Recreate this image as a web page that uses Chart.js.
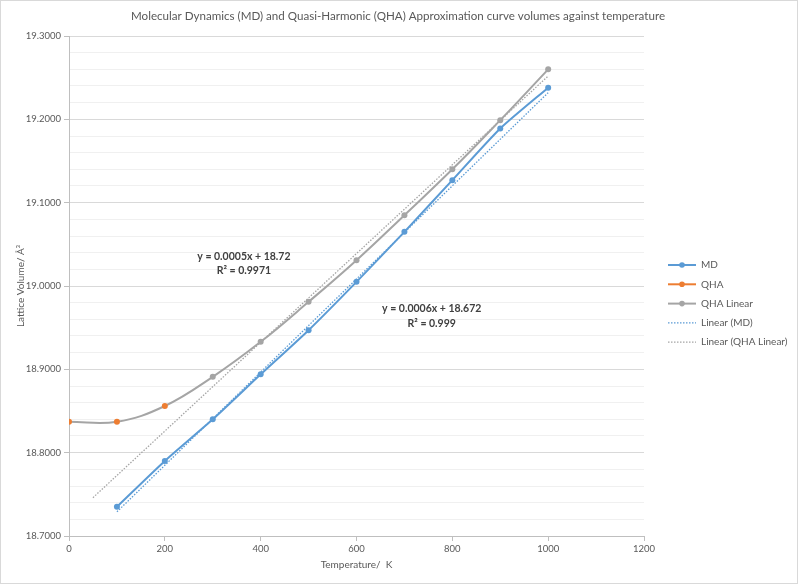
<!DOCTYPE html>
<html>
<head>
<meta charset="utf-8">
<script src="https://cdn.jsdelivr.net/npm/chart.js@4.4.1/dist/chart.umd.min.js"></script>
<style>
html,body{margin:0;padding:0;background:#fff;}
#wrap{width:800px;height:586px;position:relative;}
</style>
</head>
<body>
<div id="wrap"><canvas id="c" width="800" height="586"></canvas></div>
<script>
// ---- data ----
const titleText = 'Molecular Dynamics (MD) and Quasi-Harmonic (QHA) Approximation curve volumes against temperature';
const xTitle = 'Temperature/  K';
const yTitle = 'Lattice Volume/ Å³';
const seriesNames = ['MD', 'QHA', 'QHA Linear', 'Linear (MD)', 'Linear (QHA Linear)'];

const mdTemps = [100, 200, 300, 400, 500, 600, 700, 800, 900, 1000];
const mdVol = [18.735, 18.790, 18.840, 18.894, 18.947, 19.005, 19.065, 19.127, 19.189, 19.238];

const qhaTemps = [0, 100, 200];
const qhaVol = [18.837, 18.837, 18.856];

const qhaLinTemps = [0, 100, 200, 300, 400, 500, 600, 700, 800, 900, 1000];
const qhaLinVol = [18.837, 18.837, 18.856, 18.891, 18.933, 18.981, 19.031, 19.085, 19.140, 19.199, 19.260];

const trendMdTemps = [100, 1000];
const trendMdVol = [18.729, 19.232];
const trendQhaTemps = [50, 1000];
const trendQhaVol = [18.746, 19.252];

const eqMd = ['y = 0.0006x + 18.672', 'R² = 0.999'];
const eqQha = ['y = 0.0005x + 18.72', 'R² = 0.9971'];

const xMin = 0, xMax = 1200, xStep = 200;
const yMin = 18.7, yMax = 19.3, yMajor = 0.1, yMinor = 0.02;

// ---- styles ----
const C_MD = '#5b9bd5', C_QHA = '#ed7d31', C_QL = '#a5a5a5';
const FONT = 'Lato, "Open Sans", sans-serif';
const TXT = '#595959';

const pts = (xs, ys) => xs.map((x, i) => ({x: x, y: ys[i]}));
const isMajor = v => Math.abs(v / yMajor - Math.round(v / yMajor)) < 1e-6;

const legendItems = [
  {name: seriesNames[0], color: C_MD, dot: true, dash: false},
  {name: seriesNames[1], color: C_QHA, dot: true, dash: false},
  {name: seriesNames[2], color: C_QL, dot: true, dash: false},
  {name: seriesNames[3], color: C_MD, dot: false, dash: true},
  {name: seriesNames[4], color: C_QL, dot: false, dash: true}
];

const decor = {
  id: 'decor',
  afterDraw(chart) {
    const ctx = chart.ctx;
    const xs = chart.scales.x, ys = chart.scales.y, ca = chart.chartArea;
    ctx.save();
    // border
    ctx.strokeStyle = '#d9d9d9'; ctx.lineWidth = 1;
    ctx.strokeRect(0.5, 0.5, 797, 583);
    // title
    ctx.fillStyle = TXT; ctx.textAlign = 'center'; ctx.textBaseline = 'middle';
    ctx.font = '11.6px ' + FONT;
    ctx.fillText(titleText, 398, 16);
    // axis titles
    ctx.font = '10px ' + FONT;
    ctx.fillText(xTitle, (ca.left + ca.right) / 2, 565);
    ctx.save();
    ctx.translate(21, (ca.top + ca.bottom) / 2);
    ctx.rotate(-Math.PI / 2);
    ctx.fillText(yTitle, 0, 0);
    ctx.restore();
    // equations
    ctx.fillStyle = '#404040';
    ctx.font = 'bold 10.5px ' + FONT;
    ctx.fillText(eqQha[0], xs.getPixelForValue(365), ys.getPixelForValue(19.035));
    ctx.fillText(eqQha[1], xs.getPixelForValue(365), ys.getPixelForValue(19.019));
    ctx.fillText(eqMd[0], xs.getPixelForValue(757), ys.getPixelForValue(18.9725));
    ctx.fillText(eqMd[1], xs.getPixelForValue(757), ys.getPixelForValue(18.9545));
    // legend
    ctx.textAlign = 'left';
    ctx.font = '10px ' + FONT;
    legendItems.forEach((it, i) => {
      const y = 265 + i * 19.3;
      ctx.strokeStyle = it.color;
      if (it.dash) { ctx.setLineDash([1.5, 1.5]); ctx.lineWidth = 1.2; }
      else { ctx.setLineDash([]); ctx.lineWidth = 2; }
      ctx.beginPath(); ctx.moveTo(668, y); ctx.lineTo(696, y); ctx.stroke();
      ctx.setLineDash([]);
      if (it.dot) {
        ctx.fillStyle = it.color;
        ctx.beginPath(); ctx.arc(682, y, 2.8, 0, Math.PI * 2); ctx.fill();
      }
      ctx.fillStyle = TXT;
      ctx.fillText(it.name, 701, y);
    });
    ctx.restore();
  }
};

new Chart(document.getElementById('c'), {
  type: 'line',
  data: {
    datasets: [
      {label: seriesNames[0], data: pts(mdTemps, mdVol), borderColor: C_MD, backgroundColor: C_MD,
       borderWidth: 2, pointRadius: 3, pointBorderWidth: 0, tension: 0.2},
      {label: seriesNames[1], data: pts(qhaTemps, qhaVol), borderColor: C_QHA, backgroundColor: C_QHA,
       showLine: false, pointRadius: 3, pointBorderWidth: 0},
      {label: seriesNames[2], data: pts(qhaLinTemps, qhaLinVol), borderColor: C_QL, backgroundColor: C_QL,
       borderWidth: 2, pointRadius: qhaLinTemps.map((t, i) => i < qhaTemps.length ? 0 : 3), pointBorderWidth: 0, tension: 0.4},
      {label: seriesNames[3], data: pts(trendMdTemps, trendMdVol), borderColor: C_MD,
       borderWidth: 1.3, borderDash: [1.5, 1.5], pointRadius: 0, tension: 0},
      {label: seriesNames[4], data: pts(trendQhaTemps, trendQhaVol), borderColor: C_QL,
       borderWidth: 1.3, borderDash: [1.5, 1.5], pointRadius: 0, tension: 0}
    ]
  },
  options: {
    responsive: false,
    animation: false,
    layout: {padding: {left: 0, top: 36, right: 156, bottom: 0}},
    plugins: {legend: {display: false}, title: {display: false}, tooltip: {enabled: false}},
    scales: {
      x: {
        type: 'linear', min: xMin, max: xMax,
        ticks: {stepSize: xStep, color: TXT, font: {family: FONT, size: 9.5}, padding: 2, maxRotation: 0,
          callback: v => String(v)},
        grid: {display: true, drawOnChartArea: false, drawTicks: true, tickLength: 5, color: '#bfbfbf'},
        border: {color: '#bfbfbf'},
        afterFit(s) { s.height = 50; }
      },
      y: {
        type: 'linear', min: yMin, max: yMax,
        ticks: {stepSize: yMinor, color: TXT, font: {family: FONT, size: 9.5}, padding: 3, autoSkip: false,
          callback: v => isMajor(v) ? Number(v).toFixed(4) : ''},
        grid: {
          color: c => isMajor(c.tick.value) ? '#d9d9d9' : '#f0f0f0',
          tickColor: c => isMajor(c.tick.value) ? '#bfbfbf' : 'rgba(0,0,0,0)',
          tickLength: 5, lineWidth: 1
        },
        border: {color: '#bfbfbf'},
        afterFit(s) { s.width = 69; }
      }
    }
  },
  plugins: [decor]
});
</script>
</body>
</html>
